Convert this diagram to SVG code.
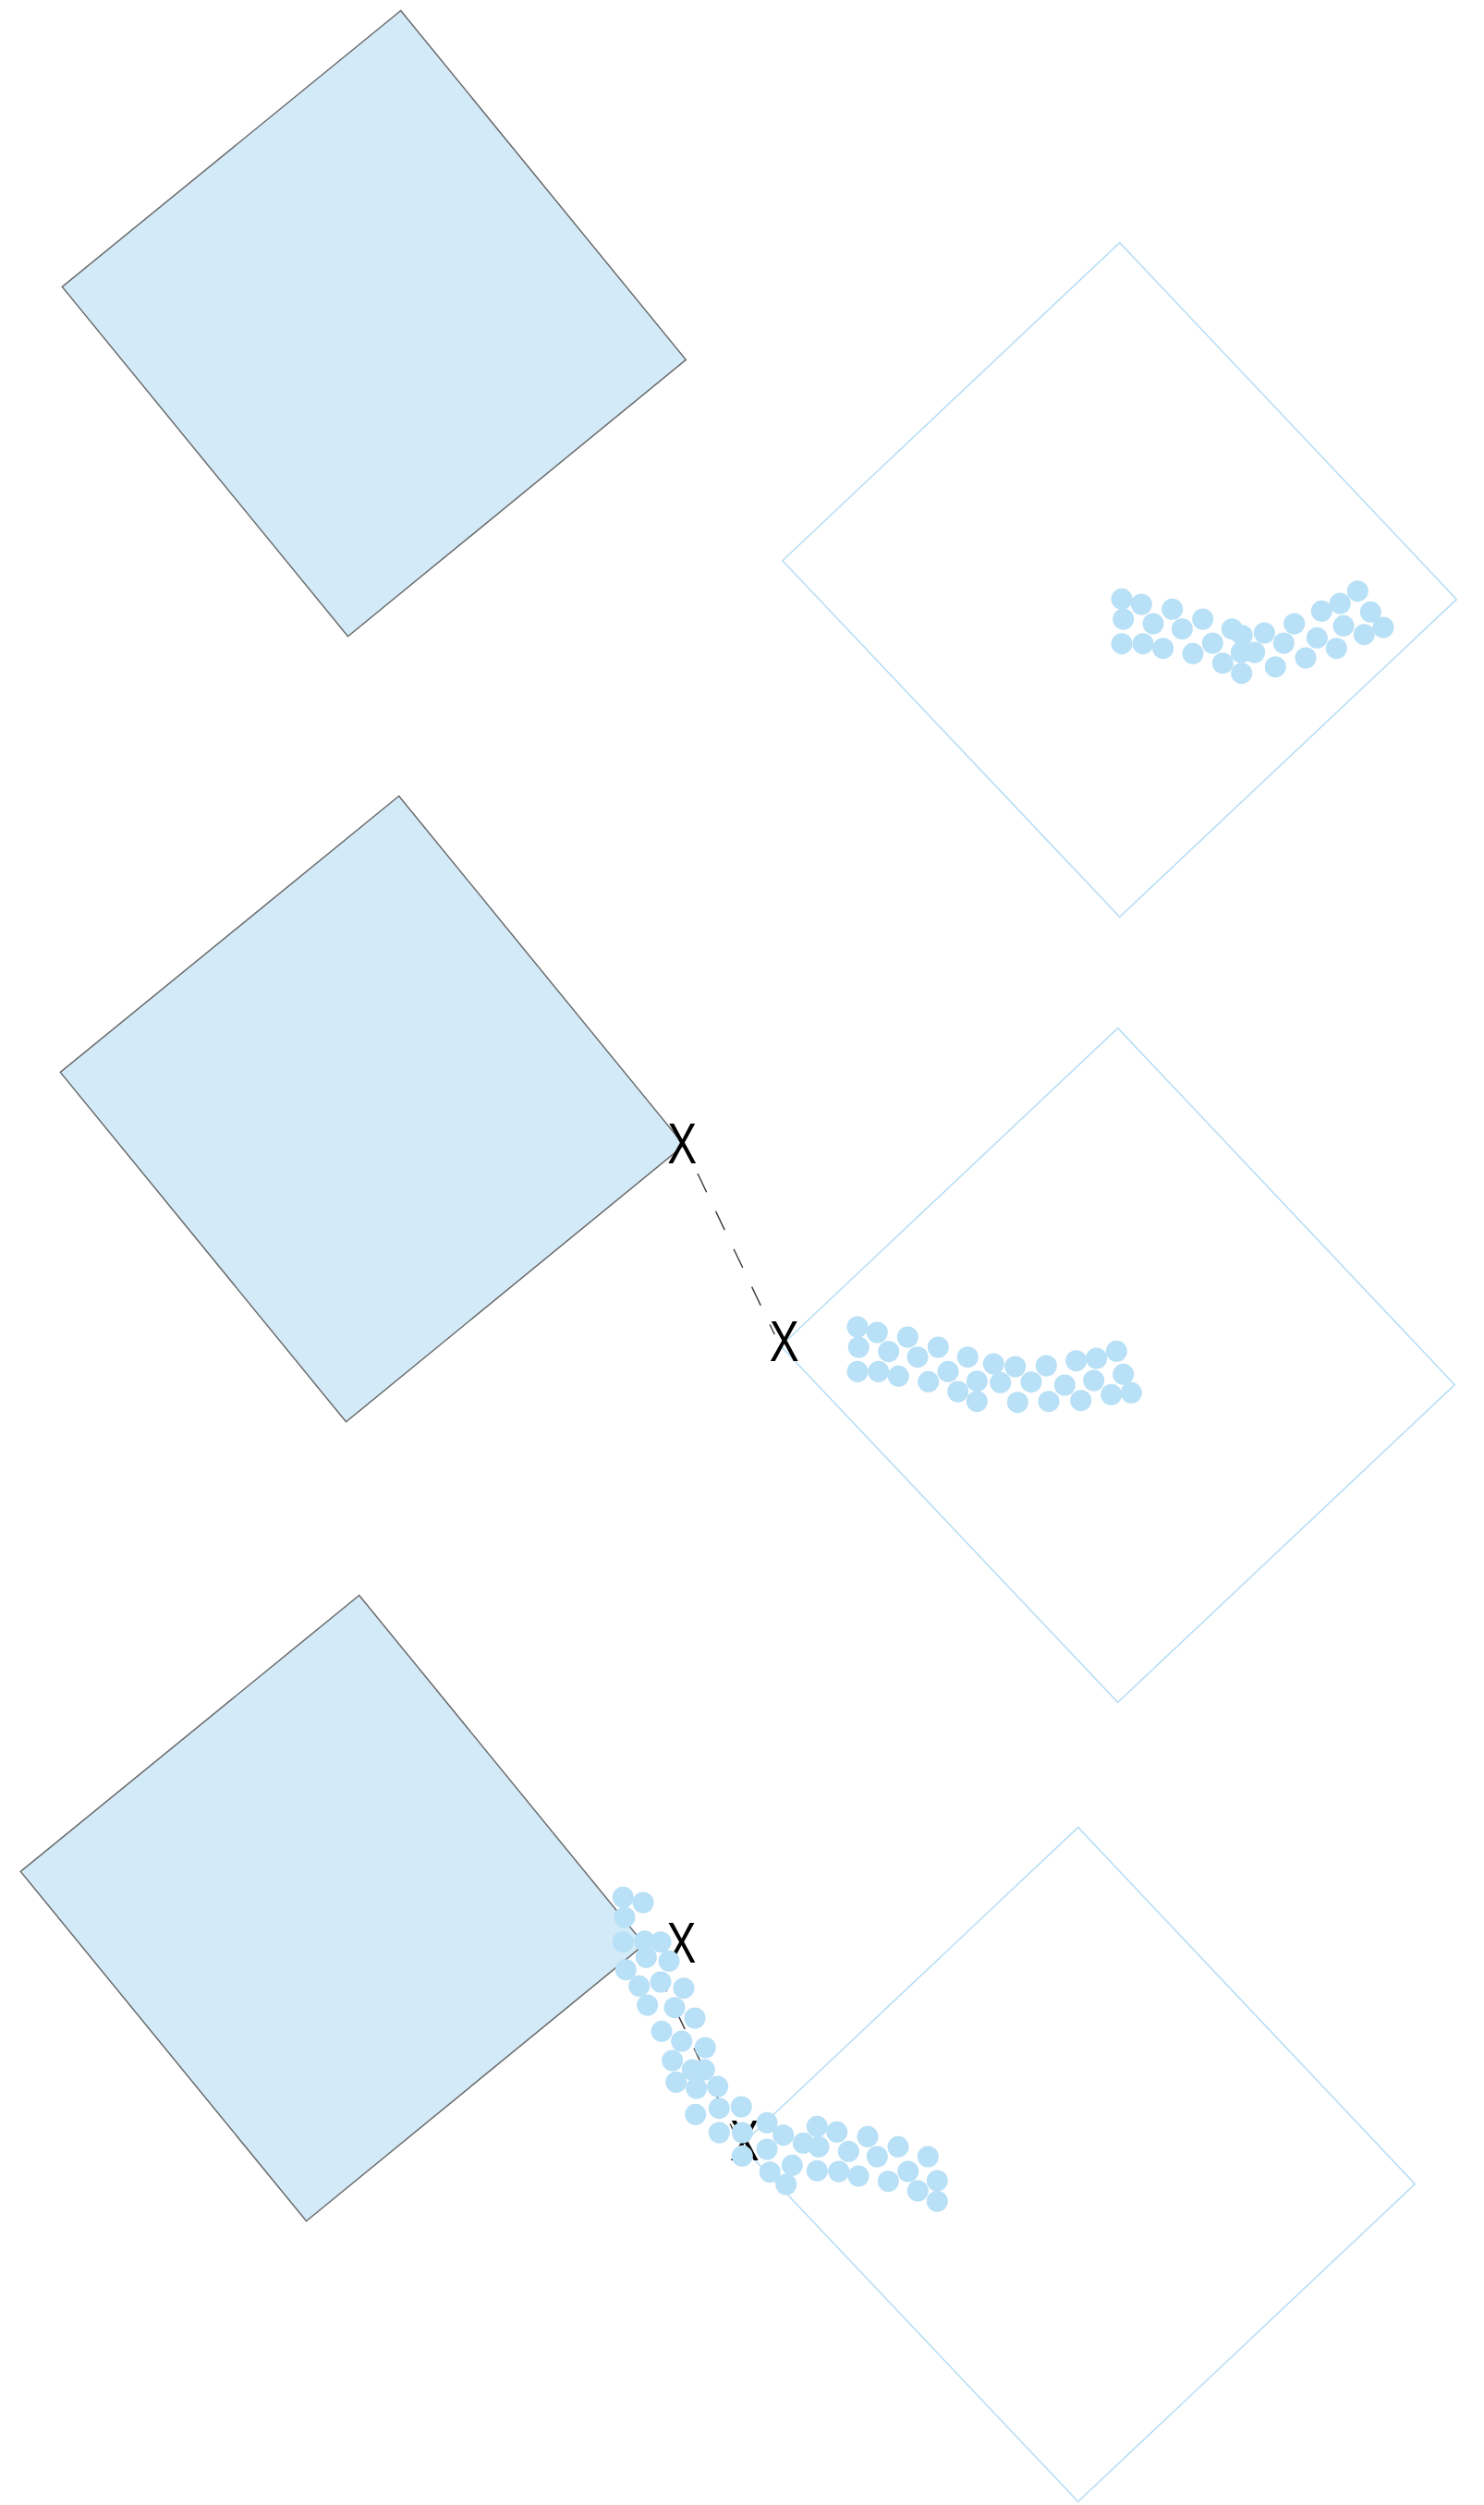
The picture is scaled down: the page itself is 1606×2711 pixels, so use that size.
<svg xmlns="http://www.w3.org/2000/svg" xmlns:xlink="http://www.w3.org/1999/xlink" width="1606" height="2711" viewBox="0 0 1606 2711">
<style>
.src{fill:#d3eaf9;stroke:#6b6b6b;stroke-width:1.5}
.dst{fill:none;stroke:#b8dff5;stroke-width:1.6}
.pt{fill:#b8e0f6}
.conn{fill:none;stroke:#3a3a3a;stroke-width:1.4;stroke-dasharray:22.5 22.8}
.mark{font-family:"Liberation Sans",Arial,sans-serif;font-size:63px;fill:#000;text-anchor:middle}
</style>
<rect width="1606" height="2711" fill="#fff"/>
<g id="panel1-source"><polygon class="src" points="433.7,11.5 742.3,389.4 376.5,688.8 67.3,310.4"/></g>
<g id="panel1-target"><polygon class="dst" points="1211.7,262.6 1576.3,648.6 1211.7,992.4 846.9,606.7"/></g>
<g id="panel2-source"><polygon class="src" points="431.7,861.5 740.3,1239.4 374.5,1538.8 65.3,1160.4"/></g>
<g id="panel2-target"><polygon class="dst" points="1209.7,1112.6 1574.3,1498.6 1209.7,1842.4 844.9,1456.7"/></g>
<g id="panel3-source"><polygon class="src" points="388.7,1726.5 697.3,2104.4 331.5,2403.8 22.3,2025.4"/></g>
<g id="panel3-target"><polygon class="dst" points="1166.7,1977.6 1531.3,2363.6 1166.7,2707.4 801.9,2321.7"/></g>
<g id="connectors">
<line class="conn" x1="755" y1="1270" x2="838.3" y2="1444.3"/>
<line class="conn" x1="712" y1="2135" x2="795.3" y2="2309.3"/>
</g>
<g id="panel2-mark-a"><text class="mark" transform="translate(738.3,1259.3) scale(0.76,1)">X</text></g>
<g id="panel2-mark-b"><text class="mark" transform="translate(848.7,1473.3) scale(0.76,1)">X</text></g>
<g id="panel3-mark-a"><text class="mark" transform="translate(737.5,2124.3) scale(0.76,1)">X</text></g>
<g id="panel3-mark-b"><text class="mark" transform="translate(805.7,2338.3) scale(0.76,1)">X</text></g>
<g id="panel1-points" class="pt">
<circle cx="1214" cy="648.3" r="11.5"/><circle cx="1235.3" cy="654" r="11.5"/><circle cx="1215.7" cy="670" r="11.5"/><circle cx="1248" cy="675" r="11.5"/>
<circle cx="1268.7" cy="659.3" r="11.5"/><circle cx="1279.3" cy="680.7" r="11.5"/><circle cx="1301.7" cy="670" r="11.5"/><circle cx="1214" cy="696.7" r="11.5"/>
<circle cx="1237" cy="696.7" r="11.5"/><circle cx="1258.7" cy="701.7" r="11.5"/><circle cx="1291" cy="707.3" r="11.5"/><circle cx="1312.3" cy="696" r="11.5"/>
<circle cx="1333.3" cy="680.7" r="11.5"/><circle cx="1344.3" cy="687.7" r="11.5"/><circle cx="1368.3" cy="685" r="11.5"/><circle cx="1323.3" cy="717.7" r="11.5"/>
<circle cx="1343.3" cy="706" r="11.5"/><circle cx="1357.7" cy="706" r="11.5"/><circle cx="1343.7" cy="728.7" r="11.5"/><circle cx="1389.3" cy="696" r="11.5"/>
<circle cx="1400.7" cy="675" r="11.5"/><circle cx="1380.3" cy="721.7" r="11.5"/><circle cx="1413" cy="712" r="11.5"/><circle cx="1425.3" cy="690.3" r="11.5"/>
<circle cx="1430.3" cy="661.3" r="11.5"/><circle cx="1450.3" cy="653" r="11.5"/><circle cx="1469.3" cy="639.7" r="11.5"/><circle cx="1483.3" cy="662.3" r="11.5"/>
<circle cx="1454" cy="677.3" r="11.5"/><circle cx="1446.3" cy="701.7" r="11.5"/><circle cx="1476.3" cy="686.7" r="11.5"/><circle cx="1497" cy="679" r="11.5"/>
</g>
<g id="panel2-points" class="pt">
<circle cx="928" cy="1436" r="11.5"/><circle cx="949.3" cy="1442" r="11.5"/><circle cx="929.3" cy="1458" r="11.5"/><circle cx="961.7" cy="1462.7" r="11.5"/>
<circle cx="982.3" cy="1447" r="11.5"/><circle cx="993" cy="1468.7" r="11.5"/><circle cx="1015.3" cy="1458" r="11.5"/><circle cx="928" cy="1484.3" r="11.5"/>
<circle cx="950.7" cy="1484.3" r="11.5"/><circle cx="972.3" cy="1489.3" r="11.5"/><circle cx="1004.7" cy="1495.3" r="11.5"/><circle cx="1026" cy="1484.3" r="11.5"/>
<circle cx="1047.3" cy="1468.7" r="11.5"/><circle cx="1036.7" cy="1506" r="11.5"/><circle cx="1057.3" cy="1494.7" r="11.5"/><circle cx="1057.3" cy="1516.7" r="11.5"/>
<circle cx="1075.3" cy="1476" r="11.5"/><circle cx="1098.7" cy="1479" r="11.5"/><circle cx="1082.7" cy="1496.3" r="11.5"/><circle cx="1101.3" cy="1517.7" r="11.5"/>
<circle cx="1116" cy="1495.7" r="11.5"/><circle cx="1132.3" cy="1478" r="11.5"/><circle cx="1135" cy="1516.7" r="11.5"/><circle cx="1152.3" cy="1499" r="11.5"/>
<circle cx="1164.7" cy="1472.7" r="11.5"/><circle cx="1186.7" cy="1470" r="11.5"/><circle cx="1208.3" cy="1462.3" r="11.5"/><circle cx="1183.7" cy="1494" r="11.5"/>
<circle cx="1169.7" cy="1515.7" r="11.5"/><circle cx="1215.7" cy="1487.3" r="11.5"/><circle cx="1202.7" cy="1509.3" r="11.5"/><circle cx="1224.3" cy="1507.3" r="11.5"/>
</g>
<g id="panel3-points" class="pt">
<circle cx="674.3" cy="2053.3" r="11.5"/><circle cx="696" cy="2059" r="11.5"/><circle cx="676" cy="2075" r="11.5"/><circle cx="674.3" cy="2101.7" r="11.5"/>
<circle cx="697.7" cy="2100.7" r="11.5"/><circle cx="715" cy="2101.7" r="11.5"/><circle cx="699.3" cy="2118.3" r="11.5"/><circle cx="724" cy="2122.3" r="11.5"/>
<circle cx="677.3" cy="2131.7" r="11.5"/><circle cx="691.7" cy="2149.3" r="11.5"/><circle cx="715" cy="2145" r="11.5"/><circle cx="740" cy="2151.7" r="11.5"/>
<circle cx="700.7" cy="2170" r="11.5"/><circle cx="730" cy="2172.7" r="11.5"/><circle cx="752" cy="2184" r="11.5"/><circle cx="716" cy="2198.3" r="11.5"/>
<circle cx="737.7" cy="2209" r="11.5"/><circle cx="763.3" cy="2216" r="11.5"/><circle cx="727.7" cy="2230" r="11.5"/><circle cx="749.3" cy="2240" r="11.5"/>
<circle cx="762.3" cy="2240" r="11.5"/><circle cx="731.7" cy="2253.3" r="11.5"/><circle cx="753.7" cy="2260" r="11.5"/><circle cx="776.7" cy="2258" r="11.5"/>
<circle cx="752.7" cy="2288.3" r="11.5"/><circle cx="778.3" cy="2281.7" r="11.5"/><circle cx="802.3" cy="2280" r="11.5"/><circle cx="778.3" cy="2308" r="11.5"/>
<circle cx="803.3" cy="2308" r="11.5"/><circle cx="803.3" cy="2333.3" r="11.5"/><circle cx="830" cy="2297.3" r="11.5"/><circle cx="847.7" cy="2310.7" r="11.5"/>
<circle cx="830" cy="2326" r="11.5"/><circle cx="833.3" cy="2350.7" r="11.5"/><circle cx="857.3" cy="2343.3" r="11.5"/><circle cx="850.7" cy="2364" r="11.5"/>
<circle cx="869.3" cy="2319.3" r="11.5"/><circle cx="884.3" cy="2301.3" r="11.5"/><circle cx="886" cy="2323.3" r="11.5"/><circle cx="905.7" cy="2307.3" r="11.5"/>
<circle cx="884.3" cy="2349.3" r="11.5"/><circle cx="907.7" cy="2350" r="11.5"/><circle cx="918.3" cy="2328.3" r="11.5"/><circle cx="929" cy="2355" r="11.5"/>
<circle cx="939" cy="2312.3" r="11.5"/><circle cx="949.3" cy="2334" r="11.5"/><circle cx="972" cy="2323.3" r="11.5"/><circle cx="961.3" cy="2360.7" r="11.5"/>
<circle cx="982.7" cy="2350" r="11.5"/><circle cx="1004.3" cy="2334" r="11.5"/><circle cx="993.3" cy="2371" r="11.5"/><circle cx="1014.3" cy="2360" r="11.5"/>
<circle cx="1014.3" cy="2382.3" r="11.5"/>
</g>
</svg>
